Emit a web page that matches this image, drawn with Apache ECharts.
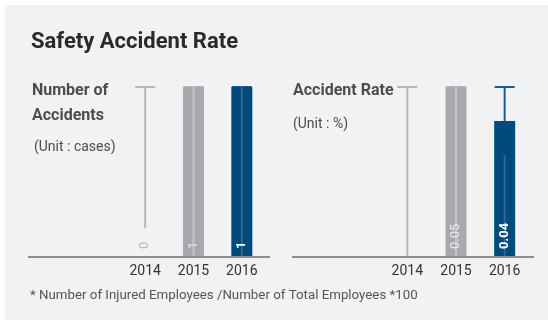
<!DOCTYPE html>
<html>
<head>
<meta charset="utf-8">
<script src="https://cdn.jsdelivr.net/npm/echarts@6/dist/echarts.min.js"></script>
<style>
  html, body { margin: 0; padding: 0; background: #ffffff; }
  #chart { width: 548px; height: 320px; }
</style>
</head>
<body>
<div id="chart"></div>
<script>
// Years shown on both panels
const years = ['2014', '2015', '2016'];

// Number of accidents (cases)
const accidents = [0, 1, 1];
const accidentsMax = 1;

// Accident rate (%) — 2014 not reported
const accidentRate = [null, 0.05, 0.04];
const rateMax = 0.05;

// Height of the light sheen stripe inside each bar
const accidentsSheen = [null, 1, 1];
const rateSheen = [null, 0.05, 0.03];

const FONT = 'Roboto, "Noto Sans", sans-serif';
const barColors = ['#a7a9ac', '#a7a9ac', '#004a7c'];
const trackColors = ['#b4b6b8', '#b4b6b8', '#1d5b92'];
const sheenColors = ['#c4c5c7', '#c4c5c7', '#2f6694'];
const labelColors = ['#b4b6b8', '#eeeeee', '#ffffff'];
const labelWeights = ['normal', 'normal', 'bold'];

// Thin track from zero to the scale maximum, capped with a short bar
function trackRenderer(values, maxV) {
  return function (params, api) {
    const i = params.dataIndex;
    const top = api.coord([i, maxV]);
    const base = api.coord([i, 0]);
    const x = top[0];
    // leave room for the rotated "0" label when the value is zero
    const bottom = values[i] === 0 ? base[1] - 29 : base[1];
    return {
      type: 'group',
      children: [
        { type: 'line', shape: { x1: x, y1: top[1], x2: x, y2: bottom },
          style: { stroke: trackColors[i], lineWidth: 2 } },
        { type: 'line', shape: { x1: x - 10, y1: top[1], x2: x + 10, y2: top[1] },
          style: { stroke: trackColors[i], lineWidth: 2 } }
      ]
    };
  };
}

// Light vertical stripe drawn over a bar
function sheenRenderer(sheen) {
  return function (params, api) {
    const i = params.dataIndex;
    if (sheen[i] == null) return null;
    const top = api.coord([i, sheen[i]]);
    const base = api.coord([i, 0]);
    return {
      type: 'line',
      shape: { x1: top[0], y1: top[1], x2: top[0], y2: base[1] },
      style: { stroke: sheenColors[i], lineWidth: 2 }
    };
  };
}

function barData(values) {
  return values.map((v, i) => v == null ? '-' : {
    value: v,
    itemStyle: { color: barColors[i] }
  });
}

// Transparent copy of the bars that only carries the value labels,
// so the labels sit above the sheen stripe
function labelData(values) {
  return values.map((v, i) => v == null ? '-' : {
    value: v,
    label: { color: labelColors[i], fontWeight: labelWeights[i] }
  });
}

const barLabel = {
  show: true,
  position: 'insideBottom',
  rotate: 90,
  align: 'left',
  verticalAlign: 'middle',
  distance: 8,
  fontFamily: FONT,
  fontSize: 13
};

const xAxisBase = {
  type: 'category',
  data: years,
  axisLine: { show: false },
  axisTick: { show: false },
  axisLabel: { color: '#333333', fontSize: 14, fontFamily: FONT, margin: 7 }
};

function panelSeries(axis, values, maxV, sheen) {
  return [
    { type: 'custom', xAxisIndex: axis, yAxisIndex: axis, z: 1,
      renderItem: trackRenderer(values, maxV),
      data: years.map((y, i) => [i, maxV]) },
    { type: 'bar', xAxisIndex: axis, yAxisIndex: axis, z: 2, barWidth: 21,
      barGap: '-100%', data: barData(values) },
    { type: 'custom', xAxisIndex: axis, yAxisIndex: axis, z: 3,
      renderItem: sheenRenderer(sheen),
      data: years.map((y, i) => [i, 0]) },
    { type: 'bar', xAxisIndex: axis, yAxisIndex: axis, z: 4, barWidth: 21,
      barGap: '-100%', itemStyle: { color: 'transparent' },
      label: barLabel, data: labelData(values) }
  ];
}

const option = {
  animation: false,
  textStyle: { fontFamily: FONT },
  grid: [
    { left: 121, top: 87, width: 145, height: 170 },
    { left: 383, top: 87, width: 146, height: 170 }
  ],
  xAxis: [
    Object.assign({ gridIndex: 0 }, xAxisBase),
    Object.assign({ gridIndex: 1 }, xAxisBase)
  ],
  yAxis: [
    { gridIndex: 0, type: 'value', min: 0, max: accidentsMax, show: false },
    { gridIndex: 1, type: 'value', min: 0, max: rateMax, show: false }
  ],
  graphic: [
    { type: 'rect', z: -10, shape: { x: 5, y: 5, width: 543, height: 315 },
      style: { fill: '#f1f2f4' } },
    { type: 'line', shape: { x1: 28, y1: 257, x2: 270, y2: 257 },
      style: { stroke: '#8c8e90', lineWidth: 2 }, z: 10 },
    { type: 'line', shape: { x1: 292, y1: 257, x2: 534, y2: 257 },
      style: { stroke: '#8c8e90', lineWidth: 2 }, z: 10 },
    { type: 'text', x: 31, y: 42, style: { text: 'Safety Accident Rate',
      font: 'bold 22px ' + FONT, fill: '#2a2a2a', verticalAlign: 'middle' } },
    { type: 'text', x: 32, y: 91, style: { text: 'Number of',
      font: 'bold 16px ' + FONT, fill: '#4d4d4f', verticalAlign: 'middle' } },
    { type: 'text', x: 32, y: 116, style: { text: 'Accidents',
      font: 'bold 16px ' + FONT, fill: '#4d4d4f', verticalAlign: 'middle' } },
    { type: 'text', x: 34, y: 147, style: { text: '(Unit : cases)',
      font: '14px ' + FONT, fill: '#4d4d4f', verticalAlign: 'middle' } },
    { type: 'text', x: 293, y: 91, style: { text: 'Accident Rate',
      font: 'bold 16px ' + FONT, fill: '#4d4d4f', verticalAlign: 'middle' } },
    { type: 'text', x: 293, y: 124, style: { text: '(Unit : %)',
      font: '14px ' + FONT, fill: '#4d4d4f', verticalAlign: 'middle' } },
    { type: 'text', x: 30, y: 296, style: {
      text: '* Number of Injured Employees /Number of Total Employees *100',
      font: '13.3px ' + FONT, fill: '#555557', verticalAlign: 'middle' } }
  ],
  series: [].concat(
    panelSeries(0, accidents, accidentsMax, accidentsSheen),
    panelSeries(1, accidentRate, rateMax, rateSheen)
  )
};

const chart = echarts.init(document.getElementById('chart'), null, { renderer: 'canvas' });
chart.setOption(option);
</script>
</body>
</html>
